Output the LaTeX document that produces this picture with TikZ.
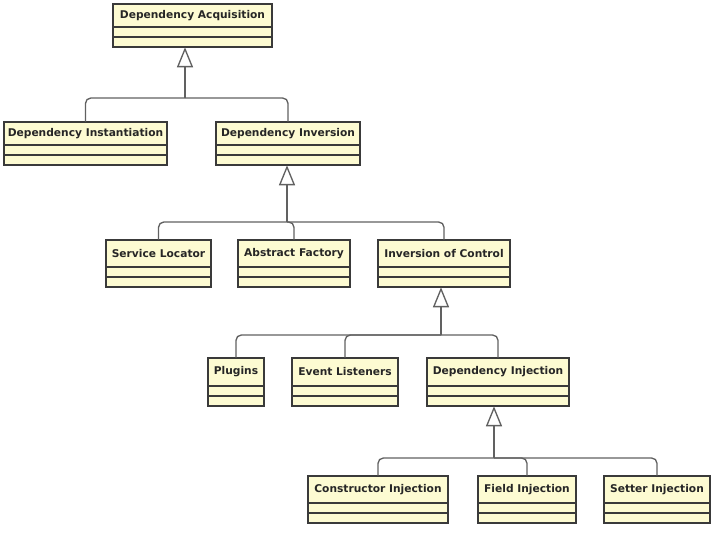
\documentclass[tikz,border=0pt]{standalone}
\usepackage{fontspec}
\setmainfont{DejaVu Sans}
\usetikzlibrary{arrows.meta,calc}
\definecolor{clsfill}{HTML}{FDFBD2}
\definecolor{clsline}{HTML}{3A3A3A}
\tikzset{
  x=0.75pt,y=-0.75pt,
  cls/.style={draw=clsline,fill=clsfill,line width=0.9pt,rectangle,inner sep=0pt},
  ttl/.style={font=\bfseries\fontsize{8}{9}\selectfont,text=black!85},
  conn/.style={draw=clsline!80,line width=1pt,rounded corners=4pt},
  gen/.style={draw=clsline!80,line width=1pt,-{Triangle[open,length=15pt,width=12pt,fill=white]}}
}
\newcommand{\umlcls}[6]{%
  \path[cls] (#2,#3) rectangle (#4,#5);
  \node[inner sep=0pt,minimum width={(#4-#2)*0.75pt},minimum height={(#5-#3)*0.75pt}] (#1) at ({(#2+#4)/2},{(#3+#5)/2}) {};
  \node[ttl] (#1t) at ({(#2+#4)/2},{#3+(#5-#3-20)/2}) {#6};
  \draw[clsline,line width=0.8pt] (#2,#5-20) -- (#4,#5-20) (#2,#5-10) -- (#4,#5-10);
}
\begin{document}
\begin{tikzpicture}
\useasboundingbox[fill=white] (0,0) rectangle (720,538);
\umlcls{A}{113}{4}{272}{47}{Dependency Acquisition}
\umlcls{DI}{4}{122}{167}{165}{Dependency Instantiation}
\umlcls{DV}{216}{122}{360}{165}{Dependency Inversion}
\umlcls{SL}{106}{240}{211}{287}{Service Locator}
\umlcls{AF}{238}{240}{350}{287}{Abstract Factory}
\umlcls{IC}{378}{240}{510}{287}{Inversion of Control}
\umlcls{PL}{208}{358}{264}{406}{Plugins}
\umlcls{EL}{292}{358}{398}{406}{Event Listeners}
\umlcls{DJ}{427}{358}{569}{406}{Dependency Injection}
\umlcls{CI}{308}{476}{448}{523}{Constructor Injection}
\umlcls{FI}{478}{476}{576}{523}{Field Injection}
\umlcls{SI}{604}{476}{710}{523}{Setter Injection}
\coordinate (j1) at (185,98);
\coordinate (j2) at (287,222);
\coordinate (j3) at (441,335);
\coordinate (j4) at (494,458);
% level 1
\draw[conn] (DI.north) |- (j1);
\draw[conn] (DV.north) |- (j1);
\draw[gen] (j1) -- (A.south -| j1);
% level 2
\draw[conn] (SL.north) |- (j2);
\draw[conn] (AF.north) |- (j2);
\draw[conn] (IC.north) |- (j2);
\draw[gen] (j2) -- (DV.south -| j2);
% level 3
\draw[conn] (PL.north) |- (j3);
\draw[conn] (EL.north) |- (j3);
\draw[conn] (DJ.north) |- (j3);
\draw[gen] (j3) -- (IC.south -| j3);
% level 4
\draw[conn] (CI.north) |- (j4);
\draw[conn] (FI.north) |- (j4);
\draw[conn] (SI.north) |- (j4);
\draw[gen] (j4) -- (DJ.south -| j4);
\end{tikzpicture}
\end{document}
